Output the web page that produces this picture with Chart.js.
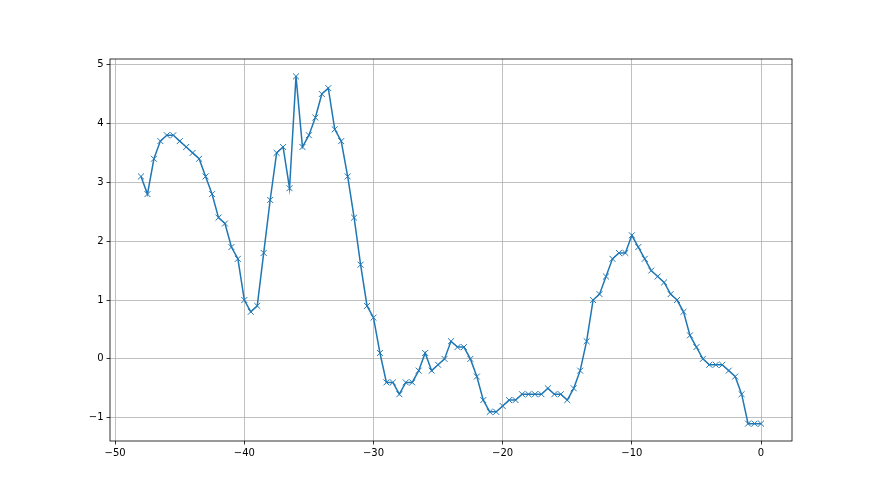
<!DOCTYPE html>
<html>
<head>
<meta charset="utf-8">
<script src="https://cdn.jsdelivr.net/npm/chart.js@4/dist/chart.umd.min.js"></script>
<style>
  html, body { margin: 0; padding: 0; background: #ffffff; }
  #c { display: block; }
</style>
</head>
<body>
<canvas id="c" width="880" height="495"></canvas>
<script>
const xValues = [
  -48, -47.5, -47, -46.5, -46, -45.5, -45, -44.5, -44, -43.5,
  -43, -42.5, -42, -41.5, -41, -40.5, -40, -39.5, -39, -38.5,
  -38, -37.5, -37, -36.5, -36, -35.5, -35, -34.5, -34, -33.5,
  -33, -32.5, -32, -31.5, -31, -30.5, -30, -29.5, -29, -28.5,
  -28, -27.5, -27, -26.5, -26, -25.5, -25, -24.5, -24, -23.5,
  -23, -22.5, -22, -21.5, -21, -20.5, -20, -19.5, -19, -18.5,
  -18, -17.5, -17, -16.5, -16, -15.5, -15, -14.5, -14, -13.5,
  -13, -12.5, -12, -11.5, -11, -10.5, -10, -9.5, -9, -8.5,
  -8, -7.5, -7, -6.5, -6, -5.5, -5, -4.5, -4, -3.5,
  -3, -2.5, -2, -1.5, -1, -0.5, 0
];
const yValues = [
  3.1, 2.8, 3.4, 3.7, 3.8, 3.8, 3.7, 3.6, 3.5, 3.4,
  3.1, 2.8, 2.4, 2.3, 1.9, 1.7, 1.0, 0.8, 0.9, 1.8,
  2.7, 3.5, 3.6, 2.9, 4.8, 3.6, 3.8, 4.1, 4.5, 4.6,
  3.9, 3.7, 3.1, 2.4, 1.6, 0.9, 0.7, 0.1, -0.4, -0.4,
  -0.6, -0.4, -0.4, -0.2, 0.1, -0.2, -0.1, 0.0, 0.3, 0.2,
  0.2, 0.0, -0.3, -0.7, -0.9, -0.9, -0.8, -0.7, -0.7, -0.6,
  -0.6, -0.6, -0.6, -0.5, -0.6, -0.6, -0.7, -0.5, -0.2, 0.3,
  1.0, 1.1, 1.4, 1.7, 1.8, 1.8, 2.1, 1.9, 1.7, 1.5,
  1.4, 1.3, 1.1, 1.0, 0.8, 0.4, 0.2, 0.0, -0.1, -0.1,
  -0.1, -0.2, -0.3, -0.6, -1.1, -1.1, -1.1
];
const xTicks = [-50, -40, -30, -20, -10, 0];
const yTicks = [-1, 0, 1, 2, 3, 4, 5];

const points = xValues.map((x, i) => ({ x: x, y: yValues[i] }));
const fmt = v => (v < 0 ? '\u2212' + Math.abs(v) : String(v));

const boxPlugin = {
  id: 'box',
  afterDatasetsDraw(chart) {
    const a = chart.chartArea;
    const ctx = chart.ctx;
    ctx.save();
    ctx.strokeStyle = '#000000';
    ctx.lineWidth = 0.8;
    ctx.strokeRect(a.left, a.top, a.right - a.left, a.bottom - a.top);
    ctx.restore();
  }
};

new Chart(document.getElementById('c'), {
  type: 'line',
  data: {
    datasets: [{
      data: points,
      borderColor: '#1f77b4',
      borderWidth: 1.5,
      tension: 0,
      fill: false,
      pointStyle: 'crossRot',
      pointRadius: 4.2,
      pointHoverRadius: 4.2,
      pointBorderWidth: 1,
      pointBorderColor: '#1f77b4',
      pointBackgroundColor: 'rgba(0,0,0,0)'
    }]
  },
  options: {
    responsive: false,
    animation: false,
    events: [],
    layout: { padding: { left: 0, top: 59, right: 88, bottom: 0 } },
    plugins: { legend: { display: false }, tooltip: { enabled: false } },
    scales: {
      x: {
        type: 'linear',
        min: -50.4,
        max: 2.4,
        afterBuildTicks: s => { s.ticks = xTicks.map(v => ({ value: v })); },
        afterFit: s => { s.height = 54; },
        border: { display: false },
        grid: { color: '#b0b0b0', lineWidth: 0.8, drawTicks: true, tickLength: 3.5, tickColor: '#000000', tickWidth: 0.8 },
        ticks: { color: '#000000', padding: 3, maxRotation: 0, autoSkip: false,
                 font: { family: 'DejaVu Sans', size: 10 }, callback: v => fmt(v) }
      },
      y: {
        type: 'linear',
        min: -1.395,
        max: 5.095,
        afterBuildTicks: s => { s.ticks = yTicks.map(v => ({ value: v })); },
        afterFit: s => { s.width = 110; },
        border: { display: false },
        grid: { color: '#b0b0b0', lineWidth: 0.8, drawTicks: true, tickLength: 3.5, tickColor: '#000000', tickWidth: 0.8 },
        ticks: { color: '#000000', padding: 3, autoSkip: false,
                 font: { family: 'DejaVu Sans', size: 10 }, callback: v => fmt(v) }
      }
    }
  },
  plugins: [boxPlugin]
});
</script>
</body>
</html>
